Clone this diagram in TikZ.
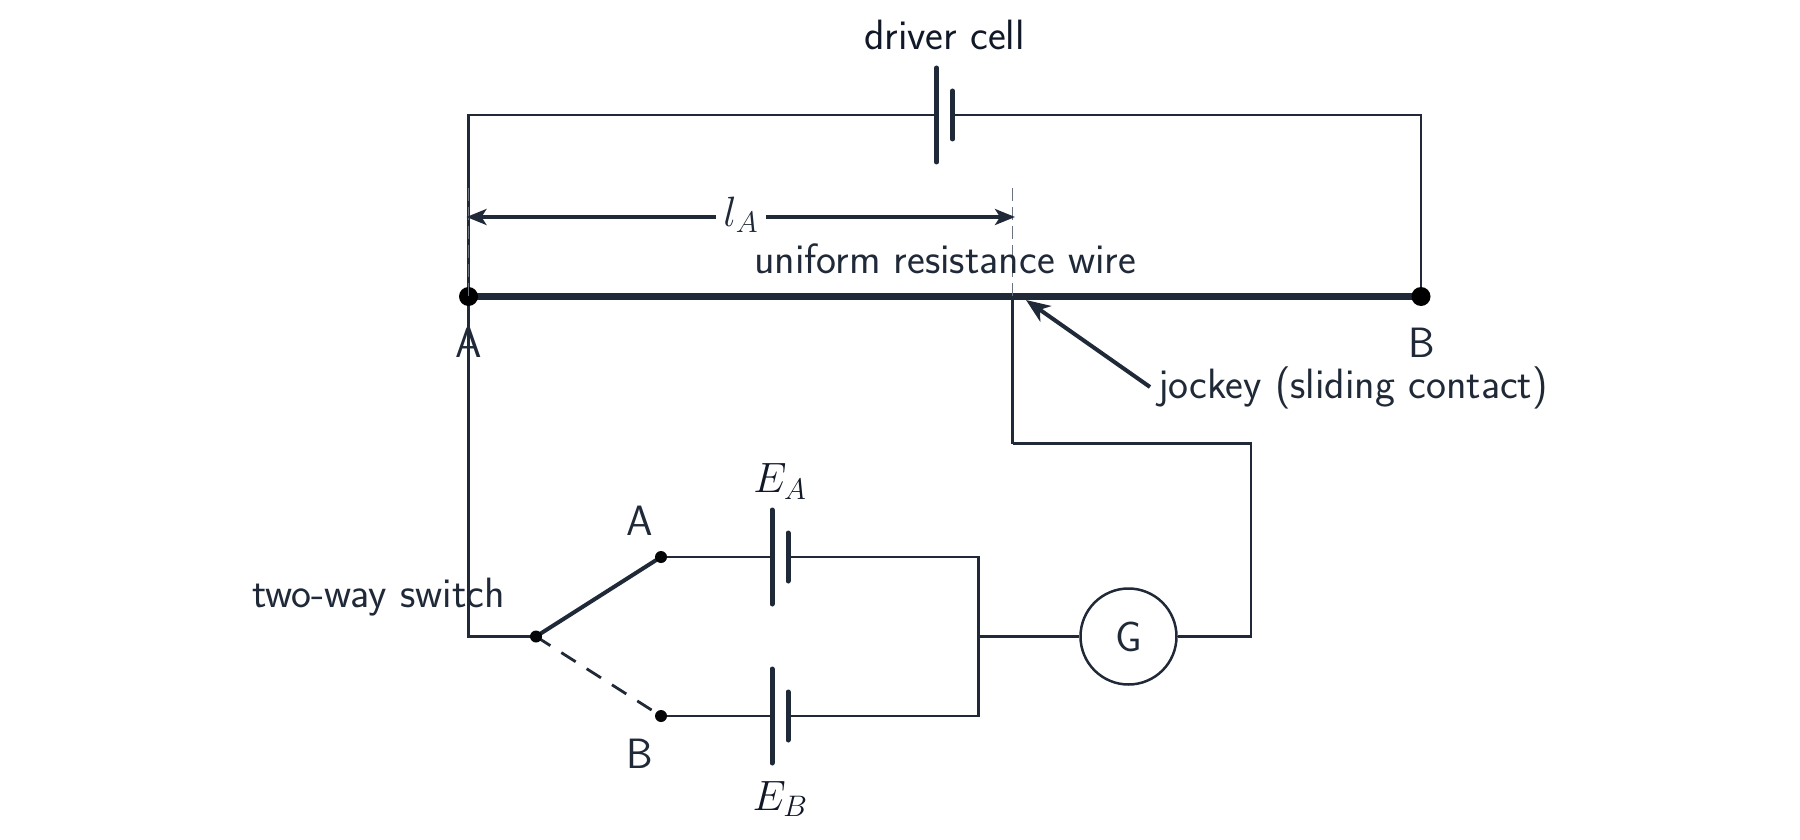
\documentclass[tikz,border=0pt]{standalone}
\usepackage{fix-cm}
\usetikzlibrary{arrows.meta}
\definecolor{ink}{HTML}{1F2937}
\definecolor{darkink}{HTML}{111827}
\definecolor{guide}{HTML}{6B7280}
\begin{document}
\begin{tikzpicture}[
        x=1pt, y=-1pt,
        wire/.style={ink, line width=2.5pt, line join=miter},
        heavywire/.style={ink, line width=6.5pt},
        plate/.style={ink, line width=5pt, line cap=round},
        arm/.style={ink, line width=4pt},
        armoff/.style={ink, line width=2.8pt, dash pattern=on 17pt off 13pt},
        guideline/.style={guide, line width=1.6pt, dash pattern=on 13pt off 6pt},
        pointer/.style={ink, line width=4pt, -{Stealth[length=24pt, width=19pt, inset=7pt]}},
        measure/.style={ink, line width=3.3pt, {Stealth[length=20pt, width=16pt, inset=5pt]}-{Stealth[length=20pt, width=16pt, inset=5pt]}},
        terminal/.style={circle, fill=black, minimum size=19pt, inner sep=0pt},
        contact/.style={circle, fill=black!85!ink, minimum size=12pt, inner sep=0pt},
        caption/.style={text=ink, inner sep=0pt, font=\fontsize{42.4}{42.4}\selectfont\sffamily},
        darkcaption/.style={caption, text=darkink},
        meter/.style={circle, draw=ink, line width=2.5pt, minimum size=96pt, inner sep=0pt, text=ink, font=\fontsize{42.4}{42.4}\selectfont\sffamily}
    ]

        \useasboundingbox (0,0) rectangle (1800,840);

        \coordinate (Apt) at (468.5,296.5);
        \coordinate (Bpt) at (1421,296.5);
        \coordinate (tl) at (468.5,115);
        \coordinate (tr) at (1421,115);
        \coordinate (elbow) at (468.5,636.5);
        \coordinate (top1) at (1012.5,296.5);
        \coordinate (top2) at (1012.5,443.5);
        \coordinate (top3) at (1251,443.5);
        \coordinate (rightg) at (1251,636.5);
        \coordinate (joinA) at (978.5,557);
        \coordinate (joinB) at (978.5,716);
        \coordinate (joinG) at (978.5,636.5);
        \coordinate (dimL) at (466.5,217);
        \coordinate (dimR) at (1015,217);
        \coordinate (extL) at (468.5,188);
        \coordinate (extR) at (1012.5,188);
        \coordinate (jockeyfrom) at (1150,387);
        \coordinate (jockeytip) at (1026,300);
        \coordinate (pivotpt) at (536,636.5);
        \coordinate (swApt) at (661,557);
        \coordinate (swBpt) at (661,716);

        \node[meter] (G) at (1128.5,636.5) {G};

        % three cells
        \foreach \name/\cx/\cy in {drv/936.5/115, ea/772/557, eb/772/716}{
            \coordinate (\name L) at (\cx,\cy);
            \coordinate (\name R) at (\cx+16,\cy);
            \draw[plate] (\cx,\cy-47) -- (\cx,\cy+47);
            \draw[plate] (\cx+16,\cy-24) -- (\cx+16,\cy+24);
        }

        \draw[wire] (Apt) -- (tl) -- (drvL);
        \draw[wire] (drvR) -- (tr) -- (Bpt);
        \draw[heavywire] (Apt) -- (Bpt);
        \draw[wire] (Apt) -- (elbow) -- (pivotpt);
        \draw[wire] (swApt) -- (eaL);
        \draw[wire] (swBpt) -- (ebL);
        \draw[wire] (eaR) -- (joinA) -- (joinB) -- (ebR);
        \draw[wire] (joinG) -- (G);
        \draw[wire] (G) -- (rightg) -- (top3) -- (top2);
        \draw[wire, line width=3pt] (top2) -- (top1);

        \draw[arm] (pivotpt) -- (swApt);
        \draw[armoff] (pivotpt) -- (swBpt);

        \node[terminal] (A) at (Apt) {};
        \node[terminal] (B) at (Bpt) {};
        \node[contact] (pivot) at (pivotpt) {};
        \node[contact] (swA) at (swApt) {};
        \node[contact] (swB) at (swBpt) {};

        \draw[guideline] (extL) -- (Apt);
        \draw[guideline] (extR) -- (top1);
        \draw[measure] (dimL) -- node[midway, fill=white, inner sep=0pt, minimum width=50pt, minimum height=30pt, text=ink, font=\fontsize{42.4}{42.4}\selectfont, yshift=2.5pt] (lA) {$l_A$} (dimR);
        \draw[pointer] (jockeyfrom) -- (jockeytip);

        \node[darkcaption] (drivertext) at (944.5,35) {driver cell};
        \node[caption] (wiretext) at (945,259) {uniform resistance wire};
        \node[caption] (Atext) at (468.5,343) {A};
        \node[caption] (Btext) at (1421.5,343) {B};
        \node[caption] (jockeytext) at (1353,387.5) {jockey (sliding contact)};
        \node[caption] (switchtext) at (378.5,597.5) {two-way switch};
        \node[caption] (swAtext) at (640,521) {A};
        \node[caption] (swBtext) at (640,754) {B};
        \node[darkcaption] (Eatext) at (780,481.5) {$E_A$};
        \node[darkcaption] (Ebtext) at (780,799) {$E_B$};
    \end{tikzpicture}
\end{document}
